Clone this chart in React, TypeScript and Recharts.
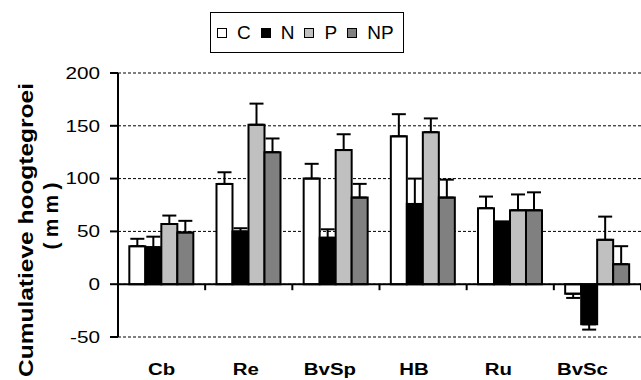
import React from "react";
import {
  BarChart,
  Bar,
  XAxis,
  YAxis,
  CartesianGrid,
  ErrorBar,
  Legend,
  ReferenceLine,
} from "recharts";

const sites = ["Cb", "Re", "BvSp", "HB", "Ru", "BvSc"];

const cValues = [36, 95, 100, 140, 72, -9];
const cErrors = [7, 11, 14, 21, 11, 4];
const nValues = [35, 50, 44, 76, 58, -38];
const nErrors = [10, 3, 8, 24, 1.5, 5];
const pValues = [57, 151, 127, 144, 70, 42];
const pErrors = [8, 20, 15, 13, 15, 22];
const npValues = [49, 125, 82, 82, 70, 19];
const npErrors = [11, 13, 13, 17, 17, 17];

const yTicks = [-50, 0, 50, 100, 150, 200];

const series = [
  { key: "C", values: cValues, errors: cErrors, color: "#ffffff" },
  { key: "N", values: nValues, errors: nErrors, color: "#000000" },
  { key: "P", values: pValues, errors: pErrors, color: "#c0c0c0" },
  { key: "NP", values: npValues, errors: npErrors, color: "#808080" },
];

// error bars are one-sided: up for positive bars, down for negative ones
const data = sites.map((site, i) => {
  const row: any = { site };
  series.forEach((s) => {
    const v = s.values[i];
    const e = s.errors[i];
    row[s.key] = v;
    row[s.key + "err"] = v >= 0 ? [0, e] : [e, 0];
  });
  return row;
});

const FONT = "'Liberation Sans', Arial, sans-serif";

function LegendBox() {
  return (
    <div
      style={{
        border: "1.5px solid #000",
        display: "flex",
        alignItems: "center",
        height: 41,
        width: 194,
        paddingLeft: 6,
        fontFamily: FONT,
        fontSize: 19,
        boxSizing: "border-box",
      }}
    >
      {series.map((s) => (
        <span key={s.key} style={{ display: "flex", alignItems: "center", marginRight: 10 }}>
          <span
            style={{
              width: 8,
              height: 8,
              border: "1.5px solid #000",
              background: s.color,
              display: "inline-block",
              marginRight: 10,
            }}
          />
          {s.key}
        </span>
      ))}
    </div>
  );
}

function YTitle(props: any) {
  const { viewBox } = props;
  const cy = viewBox.y + viewBox.height / 2;
  const c1 = cy + 25;
  const c2 = cy + 11;
  return (
    <g fontFamily={FONT} fontWeight="bold" fontSize={21} fill="#000">
      <text
        x={25}
        y={c1}
        transform={`rotate(-90 25 ${c1})`}
        textAnchor="middle"
        dominantBaseline="central"
        textLength={294}
        lengthAdjust="spacingAndGlyphs"
      >
        Cumulatieve hoogtegroei
      </text>
      <text
        x={50}
        y={c2}
        transform={`rotate(-90 50 ${c2})`}
        textAnchor="middle"
        dominantBaseline="central"
        textLength={67}
        lengthAdjust="spacing"
      >
        (mm)
      </text>
    </g>
  );
}

function ValueTick(props: any) {
  const { x, y, payload } = props;
  return (
    <text
      transform={`translate(${x - 8} ${y}) scale(1.22 1)`}
      textAnchor="end"
      dominantBaseline="central"
      fontFamily={FONT}
      fontSize={17}
      fill="#000"
    >
      {payload.value}
    </text>
  );
}

function SiteTick(props: any) {
  const { x, y, payload, index } = props;
  return (
    <text
      transform={`translate(${x - index * 3} ${y + 30}) scale(1.2 1)`}
      textAnchor="middle"
      fontFamily={FONT}
      fontWeight="bold"
      fontSize={17}
      fill="#000"
    >
      {payload.value}
    </text>
  );
}

// zero line with small tick marks at the category boundaries
function ZeroLine(props: any) {
  const { x1, x2, y1 } = props;
  const step = (x2 - x1) / sites.length;
  return (
    <g>
      <line x1={x1} x2={x2} y1={y1} y2={y1} stroke="#000" strokeWidth={2} />
      {sites.map((_, i) => (
        <line
          key={i}
          x1={x1 + step * (i + 1)}
          x2={x1 + step * (i + 1)}
          y1={y1}
          y2={y1 + 6}
          stroke="#000"
          strokeWidth={2}
        />
      ))}
    </g>
  );
}

export default function App() {
  return (
    <div style={{ position: "absolute", left: 0, top: 0, background: "#fff" }}>
      <BarChart
        width={641}
        height={380}
        data={data}
        margin={{ top: 73, right: 0, bottom: 0, left: 0 }}
        barCategoryGap="13%"
        barGap={0}
      >
        <CartesianGrid
          horizontal
          vertical={false}
          stroke="#000"
          strokeDasharray="3 2"
          strokeWidth={1}
        />
        <XAxis
          dataKey="site"
          axisLine={false}
          tickLine={false}
          height={43}
          interval={0}
          tick={<SiteTick />}
        />
        <YAxis
          width={118}
          domain={[-50, 200]}
          ticks={yTicks}
          interval={0}
          tickSize={8}
          axisLine={{ stroke: "#000", strokeWidth: 2 }}
          tickLine={{ stroke: "#000", strokeWidth: 2 }}
          tick={<ValueTick />}
          label={<YTitle />}
        />
        <ReferenceLine y={0} shape={<ZeroLine />} />
        <Legend
          layout="horizontal"
          verticalAlign="middle"
          align="center"
          wrapperStyle={{ position: "absolute", top: 12, left: 210, width: 194 }}
          content={<LegendBox />}
        />
        {series.map((s) => (
          <Bar
            key={s.key}
            dataKey={s.key}
            fill={s.color}
            stroke="#000"
            strokeWidth={2}
            isAnimationActive={false}
          >
            <ErrorBar
              dataKey={s.key + "err"}
              direction="y"
              width={7}
              stroke="#000"
              strokeWidth={2}
            />
          </Bar>
        ))}
      </BarChart>
    </div>
  );
}
